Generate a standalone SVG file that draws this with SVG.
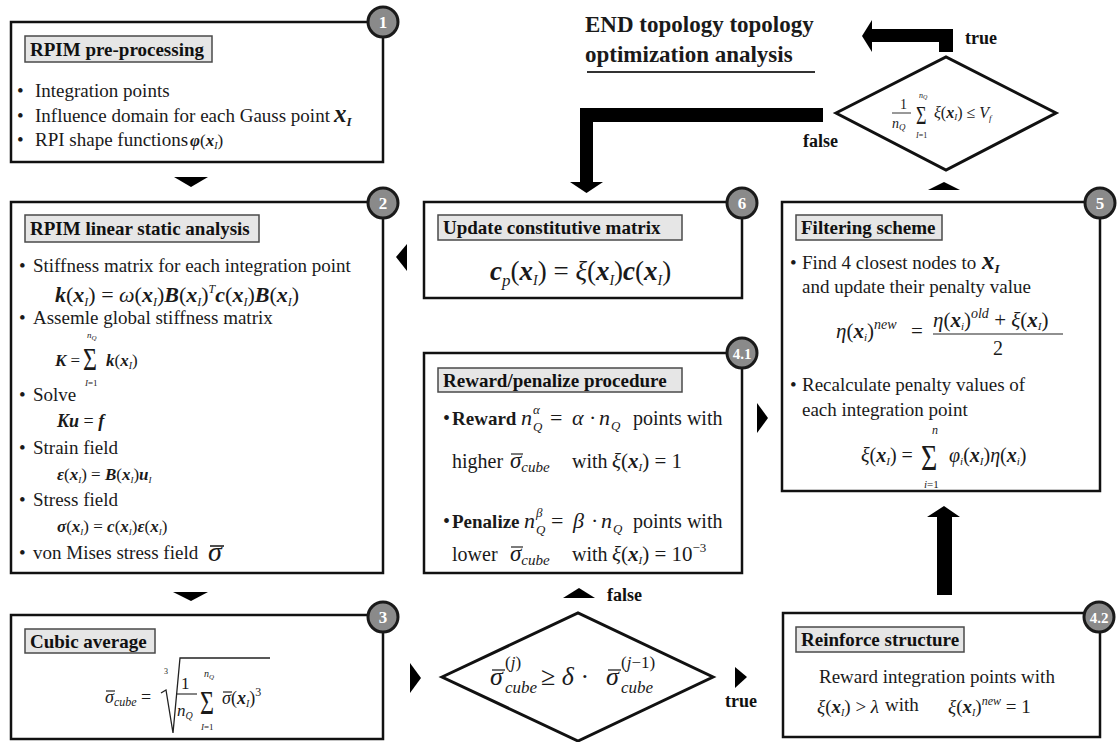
<svg xmlns="http://www.w3.org/2000/svg" width="1118" height="742" viewBox="0 0 1118 742">
<style>
text{font-family:"Liberation Serif","Times New Roman",serif;fill:#1a1a1a}
.box{fill:#fff;stroke:#111;stroke-width:2.5}
.tb{fill:#e6e6e6;stroke:#4a4a4a;stroke-width:1.5}
.tt{font-size:19px;font-weight:bold;fill:#111}
.bd{font-size:19px}
.it{font-style:italic}
.bi{font-style:italic;font-weight:bold}
.s{font-size:12px}
.bg circle{fill:#8a8a8a;stroke:#1a1a1a;stroke-width:3}
.bg text{fill:#fff;font-size:17px;font-weight:bold;text-anchor:middle}
.ar{fill:#000}
.lb{font-size:18px;font-weight:bold;fill:#111}
.dm{fill:#fff;stroke:#111;stroke-width:3}
.ln{stroke:#222;stroke-width:1.3;fill:none}
.ob{stroke:#222;stroke-width:1.2}
</style>

<g id="end-title">
<text x="585" y="32" font-size="23" font-weight="bold">END topology topology</text>
<text x="585" y="62" font-size="23" font-weight="bold">optimization analysis</text>
<line x1="587" y1="72" x2="815" y2="72" stroke="#333" stroke-width="2"/>
</g>

<g id="n1">
<rect class="box" x="11" y="22" width="372" height="140"/>
<rect class="tb" x="25" y="36" width="187" height="26"/>
<text class="tt" x="30" y="56">RPIM pre-processing</text>
<text class="bd" x="17" y="97">•</text><text class="bd" x="35" y="97">Integration points</text>
<text class="bd" x="17" y="122">•</text><text class="bd" x="35" y="122">Influence domain for each Gauss point <tspan x="334" class="bi" font-size="25">x</tspan><tspan class="bi" font-size="13" dy="4">I</tspan></text>
<text class="bd" x="17" y="146">•</text><text class="bd" x="35" y="146">RPI shape functions</text>
<text x="190" y="146" font-size="17"><tspan class="bi">φ</tspan>(<tspan class="bi">x</tspan><tspan class="it" font-size="10" dy="3">I</tspan><tspan dy="-3">)</tspan></text>
<g class="bg"><circle cx="383" cy="22" r="15"/><text x="383" y="28">1</text></g>
</g>

<g id="n2">
<rect class="box" x="11" y="202" width="372" height="371"/>
<rect class="tb" x="25" y="215" width="234" height="27"/>
<text class="tt" x="30" y="235">RPIM linear static analysis</text>
<text class="bd" x="19" y="272">•</text><text class="bd" x="33" y="272">Stiffness matrix for each integration point</text>
<text x="55" y="302" font-size="22"><tspan class="bi">k</tspan>(<tspan class="bi">x</tspan><tspan class="it s" dy="4">I</tspan><tspan dy="-4">) = </tspan><tspan class="it">ω</tspan>(<tspan class="bi">x</tspan><tspan class="it s" dy="4">I</tspan><tspan dy="-4">)</tspan><tspan class="bi">B</tspan>(<tspan class="bi">x</tspan><tspan class="it s" dy="4">I</tspan><tspan dy="-4">)</tspan><tspan class="it s" dy="-9">T</tspan><tspan class="bi" dy="9">c</tspan>(<tspan class="bi">x</tspan><tspan class="it s" dy="4">I</tspan><tspan dy="-4">)</tspan><tspan class="bi">B</tspan>(<tspan class="bi">x</tspan><tspan class="it s" dy="4">I</tspan><tspan dy="-4">)</tspan></text>
<text class="bd" x="19" y="324">•</text><text class="bd" x="33" y="324">Assemle global stiffness matrix</text>
<text x="55" y="366" font-size="17"><tspan class="bi">K</tspan> =</text>
<text transform="translate(83,370) scale(1,1.3)" font-size="24">Σ</text>
<text x="87" y="338" font-size="9" class="it">n<tspan font-size="7" dy="2">Q</tspan></text>
<text x="85" y="386" font-size="9" class="it">I<tspan font-style="normal">=1</tspan></text>
<text x="106" y="366" font-size="17"><tspan class="bi">k</tspan>(<tspan class="bi">x</tspan><tspan class="it" font-size="10" dy="3">I</tspan><tspan dy="-3">)</tspan></text>
<text class="bd" x="19" y="401">•</text><text class="bd" x="33" y="401">Solve</text>
<text x="57" y="427" font-size="18"><tspan class="bi">Ku</tspan> = <tspan class="bi">f</tspan></text>
<text class="bd" x="19" y="454">•</text><text class="bd" x="33" y="454">Strain field</text>
<text x="57" y="480" font-size="17"><tspan class="bi">ε</tspan>(<tspan class="bi">x</tspan><tspan class="it" font-size="9" dy="3">I</tspan><tspan dy="-3">) = </tspan><tspan class="bi">B</tspan>(<tspan class="bi">x</tspan><tspan class="it" font-size="9" dy="3">I</tspan><tspan dy="-3">)</tspan><tspan class="bi">u</tspan><tspan class="it" font-size="9" dy="3">I</tspan></text>
<text class="bd" x="19" y="506">•</text><text class="bd" x="33" y="506">Stress field</text>
<text x="57" y="532" font-size="17"><tspan class="bi">σ</tspan>(<tspan class="bi">x</tspan><tspan class="it" font-size="9" dy="3">I</tspan><tspan dy="-3">) = </tspan><tspan class="bi">c</tspan>(<tspan class="bi">x</tspan><tspan class="it" font-size="9" dy="3">I</tspan><tspan dy="-3">)</tspan><tspan class="bi">ε</tspan>(<tspan class="bi">x</tspan><tspan class="it" font-size="9" dy="3">I</tspan><tspan dy="-3">)</tspan></text>
<text class="bd" x="19" y="559">•</text><text class="bd" x="33" y="559">von Mises stress field</text>
<text x="208" y="561" font-size="28" class="it">σ</text>
<line x1="210" y1="546" x2="224" y2="546" stroke="#222" stroke-width="1.6"/>
<g class="bg"><circle cx="383" cy="203" r="15"/><text x="383" y="209">2</text></g>
</g>

<g id="n3">
<rect class="box" x="11" y="615" width="372" height="124"/>
<rect class="tb" x="25" y="629" width="130" height="24"/>
<text class="tt" x="30" y="648">Cubic average</text>
<text x="105" y="703" font-size="18" class="it">σ<tspan font-size="12" dy="3">cube</tspan><tspan dy="-3" font-style="normal"> =</tspan></text>
<line class="ob" x1="106" y1="691" x2="115" y2="691"/>
<path class="ln" d="M161,693 L166,690 L173,733 L180,658 L270,658"/>
<text x="164" y="674" font-size="8">3</text>
<text x="181" y="689" font-size="17">1</text>
<line x1="177" y1="694" x2="197" y2="694" stroke="#222" stroke-width="1.1"/>
<text x="177" y="716" font-size="17" class="it">n<tspan font-size="10" dy="3">Q</tspan></text>
<text transform="translate(200,714) scale(1,1.4)" font-size="24">Σ</text>
<text x="204" y="677" font-size="10" class="it">n<tspan font-size="7" dy="2">Q</tspan></text>
<text x="201" y="730" font-size="9" class="it">I<tspan font-style="normal">=1</tspan></text>
<text x="222" y="704" font-size="18"><tspan class="it">σ</tspan>(<tspan class="bi">x</tspan><tspan class="it" font-size="10" dy="3">I</tspan><tspan dy="-3">)</tspan><tspan font-size="12" dy="-8">3</tspan></text>
<line class="ob" x1="223" y1="692" x2="232" y2="692"/>
<g class="bg"><circle cx="383" cy="617" r="15"/><text x="383" y="623">3</text></g>
</g>

<g id="n6">
<rect class="box" x="424" y="202" width="318" height="96"/>
<rect class="tb" x="438" y="215" width="244" height="25"/>
<text class="tt" x="443" y="234">Update constitutive matrix</text>
<text x="490" y="280" font-size="27"><tspan class="bi">c</tspan><tspan class="it" font-size="17" dy="6">p</tspan><tspan dy="-6">(</tspan><tspan class="bi">x</tspan><tspan class="it" font-size="14" dy="5">I</tspan><tspan dy="-5">) = </tspan><tspan class="it">ξ</tspan>(<tspan class="bi">x</tspan><tspan class="it" font-size="14" dy="5">I</tspan><tspan dy="-5">)</tspan><tspan class="bi">c</tspan>(<tspan class="bi">x</tspan><tspan class="it" font-size="14" dy="5">I</tspan><tspan dy="-5">)</tspan></text>
<g class="bg"><circle cx="742" cy="203" r="15"/><text x="742" y="209">6</text></g>
</g>

<g id="n41">
<rect class="box" x="424" y="353" width="318" height="220"/>
<rect class="tb" x="438" y="368" width="244" height="24"/>
<text class="tt" x="443" y="387">Reward/penalize procedure</text>
<text x="443" y="425" font-size="20">•</text>
<text x="452" y="425" font-size="19" font-weight="bold">Reward</text>
<text x="521" y="425" font-size="22" class="it">n<tspan x="533" y="431" font-size="13">Q</tspan><tspan x="533" y="414" font-size="13">α</tspan><tspan x="550" y="425" font-style="normal">=</tspan><tspan x="572" y="425">α</tspan><tspan x="589" y="425" font-style="normal">·</tspan><tspan x="599" y="425">n</tspan><tspan x="611" y="430" font-size="13">Q</tspan></text>
<text x="633" y="425" font-size="20">points with</text>
<text x="452" y="468" font-size="20">higher</text>
<text x="510" y="468" font-size="23" class="it">σ<tspan font-size="15" dy="4">cube</tspan></text>
<line class="ob" x1="511" y1="454" x2="523" y2="454"/>
<text x="572" y="468" font-size="20">with</text>
<text x="612" y="468" font-size="21"><tspan class="it">ξ</tspan>(<tspan class="bi">x</tspan><tspan class="it" font-size="11" dy="3">I</tspan><tspan dy="-3">) = 1</tspan></text>
<text x="443" y="528" font-size="20">•</text>
<text x="452" y="528" font-size="19" font-weight="bold">Penalize</text>
<text x="524" y="528" font-size="22" class="it">n<tspan x="536" y="534" font-size="13">Q</tspan><tspan x="536" y="517" font-size="13">β</tspan><tspan x="551" y="528" font-style="normal">=</tspan><tspan x="573" y="528">β</tspan><tspan x="591" y="528" font-style="normal">·</tspan><tspan x="601" y="528">n</tspan><tspan x="613" y="533" font-size="13">Q</tspan></text>
<text x="633" y="528" font-size="20">points with</text>
<text x="452" y="561" font-size="20">lower</text>
<text x="510" y="561" font-size="23" class="it">σ<tspan font-size="15" dy="4">cube</tspan></text>
<line class="ob" x1="511" y1="547" x2="523" y2="547"/>
<text x="572" y="561" font-size="20">with</text>
<text x="612" y="561" font-size="21"><tspan class="it">ξ</tspan>(<tspan class="bi">x</tspan><tspan class="it" font-size="11" dy="3">I</tspan><tspan dy="-3">) = 10</tspan><tspan font-size="13" dy="-9">−3</tspan></text>
<g class="bg"><circle cx="742" cy="353" r="15"/><text x="742" y="359" style="font-size:15px">4.1</text></g>
</g>

<g id="n5">
<rect class="box" x="782" y="202" width="318" height="289"/>
<rect class="tb" x="796" y="215" width="146" height="25"/>
<text class="tt" x="801" y="234">Filtering scheme</text>
<text class="bd" x="790" y="269">•</text><text class="bd" x="802" y="269">Find 4 closest nodes to <tspan x="982" class="bi" font-size="25">x</tspan><tspan class="bi" font-size="13" dy="4">I</tspan></text>
<text class="bd" x="802" y="293">and update their penalty value</text>
<text x="836" y="338" font-size="21"><tspan class="it">η</tspan>(<tspan class="bi">x</tspan><tspan class="it" font-size="11" dy="3">i</tspan><tspan dy="-3">)</tspan><tspan class="it" font-size="14" dy="-9">new</tspan><tspan x="911" dy="9">=</tspan></text>
<text x="933" y="327" font-size="21"><tspan class="it">η</tspan>(<tspan class="bi">x</tspan><tspan class="it" font-size="11" dy="3">i</tspan><tspan dy="-3">)</tspan><tspan class="it" font-size="14" dy="-9">old</tspan><tspan dy="9"> + </tspan><tspan class="it">ξ</tspan>(<tspan class="bi">x</tspan><tspan class="it" font-size="11" dy="3">I</tspan><tspan dy="-3">)</tspan></text>
<line x1="933" y1="334" x2="1063" y2="334" stroke="#222" stroke-width="1.2"/>
<text x="998" y="355" font-size="20" text-anchor="middle">2</text>
<text class="bd" x="790" y="391">•</text><text class="bd" x="802" y="391">Recalculate penalty values of</text>
<text class="bd" x="802" y="416">each integration point</text>
<text x="861" y="462" font-size="20"><tspan class="it">ξ</tspan>(<tspan class="bi">x</tspan><tspan class="it" font-size="11" dy="3">I</tspan><tspan dy="-3">) =</tspan></text>
<text transform="translate(921,470) scale(1,1.3)" font-size="28">Σ</text>
<text x="932" y="434" font-size="12" class="it">n</text>
<text x="924" y="488" font-size="11" class="it">i<tspan font-style="normal">=1</tspan></text>
<text x="949" y="462" font-size="20"><tspan class="it">φ</tspan><tspan class="it" font-size="11" dy="3">i</tspan><tspan dy="-3">(</tspan><tspan class="bi">x</tspan><tspan class="it" font-size="11" dy="3">I</tspan><tspan dy="-3">)</tspan><tspan class="it">η</tspan>(<tspan class="bi">x</tspan><tspan class="it" font-size="11" dy="3">i</tspan><tspan dy="-3">)</tspan></text>
<g class="bg"><circle cx="1100" cy="203" r="15"/><text x="1100" y="209">5</text></g>
</g>

<g id="n42">
<rect class="box" x="783" y="613" width="317" height="124"/>
<rect class="tb" x="796" y="627" width="168" height="25"/>
<text class="tt" x="801" y="646">Reinforce structure</text>
<text class="bd" x="819" y="683">Reward integration points with</text>
<text x="817" y="713" font-size="19"><tspan class="it">ξ</tspan>(<tspan class="bi">x</tspan><tspan class="it" font-size="10" dy="3">I</tspan><tspan dy="-3">) &gt; </tspan><tspan class="it">λ</tspan></text>
<text x="885" y="711" font-size="19">with</text>
<text x="948" y="713" font-size="19"><tspan class="it">ξ</tspan>(<tspan class="bi">x</tspan><tspan class="it" font-size="10" dy="3">I</tspan><tspan dy="-3">)</tspan><tspan class="it" font-size="12" dy="-8">new</tspan><tspan dy="8"> = 1</tspan></text>
<g class="bg"><circle cx="1099" cy="617" r="15"/><text x="1099" y="623" style="font-size:15px">4.2</text></g>
</g>

<g id="d1">
<polygon class="dm" points="442,677 578,613 713,677 578,741"/>
<text x="490" y="685" font-size="26" class="it" fill="#333">σ</text>
<line x1="492" y1="670" x2="505" y2="670" stroke="#333" stroke-width="1.4"/>
<text x="505" y="693" font-size="17" class="it" fill="#333">cube</text>
<text x="505" y="668" font-size="17" fill="#333">(<tspan class="it">j</tspan>)</text>
<text x="541" y="685" font-size="26" fill="#333">≥ <tspan class="it">δ</tspan> ·</text>
<text x="606" y="685" font-size="26" class="it" fill="#333">σ</text>
<line x1="608" y1="670" x2="621" y2="670" stroke="#333" stroke-width="1.4"/>
<text x="621" y="693" font-size="17" class="it" fill="#333">cube</text>
<text x="621" y="668" font-size="17" fill="#333">(<tspan class="it">j</tspan>−1)</text>
</g>

<g id="d2">
<polygon class="dm" points="836,113 946,57 1056,113 946,170"/>
<text x="900" y="109" font-size="14" fill="#333">1</text>
<line x1="892" y1="113" x2="911" y2="113" stroke="#333" stroke-width="1"/>
<text x="892" y="128" font-size="14" class="it" fill="#333">n<tspan font-size="9" dy="2">Q</tspan></text>
<text transform="translate(916,124) scale(1,1.4)" font-size="18" fill="#333">Σ</text>
<text x="919" y="98" font-size="8" class="it" fill="#333">n<tspan font-size="6" dy="1">Q</tspan></text>
<text x="916" y="138" font-size="8" class="it" fill="#333">I<tspan font-style="normal">=1</tspan></text>
<text x="934" y="118" font-size="16" fill="#333"><tspan class="it">ξ</tspan>(<tspan class="bi">x</tspan><tspan class="it" font-size="9" dy="2">I</tspan><tspan dy="-2">) ≤ </tspan><tspan class="it">V</tspan><tspan class="it" font-size="9" dy="3">f</tspan></text>
</g>

<g id="connectors">
<polygon class="ar" points="174,177 208,177 191,187"/>
<polygon class="ar" points="173,592 208,592 191,601"/>
<polygon class="ar" points="407,244 407,271 396,257"/>
<polygon class="ar" points="410,663 410,693 421,678"/>
<polygon class="ar" points="563,598 595,598 579,588"/>
<polygon class="ar" points="735,667 735,688 747,677"/>
<polygon class="ar" points="757,403 757,433 768,418"/>
<polygon class="ar" points="928,190 960,190 944,182"/>
<polygon class="ar" points="937,595 937,517 927,517 944,506 960,517 952,517 952,595"/>
<polygon class="ar" points="823,108 580,108 580,182 570,182 586.5,193 603,182 593,182 593,122 823,122"/>
<polygon class="ar" points="953,52 953,29 872,29 872,20 862,36 872,52 872,42 939,42 939,52"/>
<text class="lb" x="965" y="44">true</text>
<text class="lb" x="803" y="147">false</text>
<text class="lb" x="607" y="601">false</text>
<text class="lb" x="725" y="707">true</text>
</g>
</svg>
